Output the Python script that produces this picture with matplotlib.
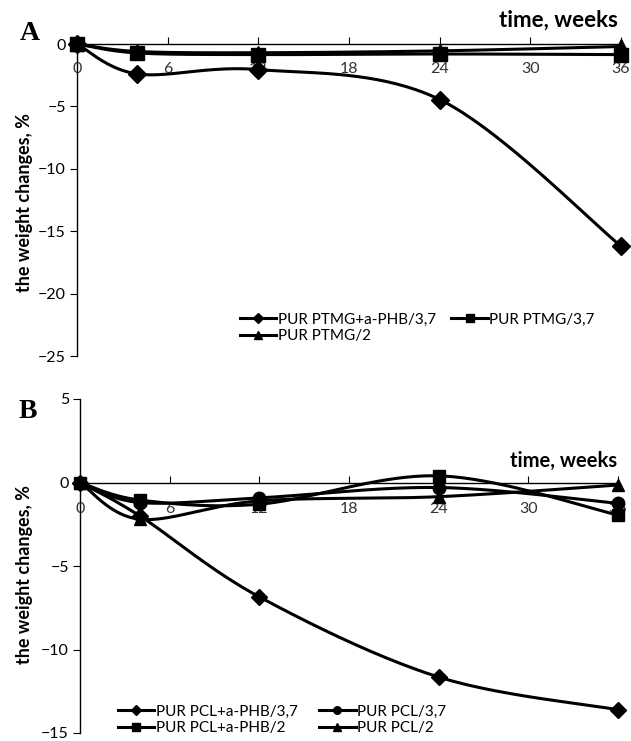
import numpy as np
import matplotlib
matplotlib.use("Agg")
import matplotlib.pyplot as plt

# ---------------- data ----------------
weeks = [0, 4, 12, 24, 36]
xticks = [0, 6, 12, 18, 24, 30, 36]

a_labels = ["PUR PTMG+a-PHB/3,7", "PUR PTMG/3,7", "PUR PTMG/2"]
a_markers = ["D", "s", "^"]
a_ptmg_phb37 = [0, -2.4, -2.05, -4.45, -16.2]
a_ptmg37 = [0, -0.72, -0.85, -0.8, -0.85]
a_ptmg2 = [0, -0.6, -0.7, -0.55, -0.2]

b_labels = ["PUR PCL+a-PHB/3,7", "PUR PCL/3,7", "PUR PCL+a-PHB/2", "PUR PCL/2"]
b_markers = ["D", "o", "s", "^"]
b_pcl_phb37 = [0, -2.0, -6.85, -11.65, -13.6]
b_pcl37 = [0, -1.2, -0.92, -0.3, -1.25]
b_pcl_phb2 = [0, -1.05, -1.3, 0.4, -1.95]
b_pcl2 = [0, -2.2, -1.1, -0.85, -0.15]

FONT = "Lato"
plt.rcParams["font.family"] = [FONT, "DejaVu Sans"]

fig = plt.figure(figsize=(6.31, 7.41), dpi=100)
axA = fig.add_axes([77/631, 1-356/741, (621-77)/631, (356-44)/741])
axB = fig.add_axes([80/631, 1-733/741, (618-80)/631, (733-399)/741])


def smooth(ax, x, y, n=40):
    pts = ax.transData.transform(np.column_stack([x, y]))
    P = np.vstack([pts[0], pts, pts[-1]])
    out = []
    for i in range(1, len(P) - 2):
        p0, p1, p2, p3 = P[i-1], P[i], P[i+1], P[i+2]
        c1 = p1 + (p2 - p0) / 6.0
        c2 = p2 - (p3 - p1) / 6.0
        t = np.linspace(0, 1, n)[:, None]
        seg = ((1-t)**3)*p1 + 3*((1-t)**2)*t*c1 + 3*(1-t)*(t**2)*c2 + (t**3)*p2
        out.append(seg if i == 1 else seg[1:])
    out = np.vstack(out)
    d = ax.transData.inverted().transform(out)
    return d[:, 0], d[:, 1]


def setup(ax, ylim, yticks, pad):
    ax.set_xlim(0, 36)
    ax.set_ylim(*ylim)
    ax.spines["right"].set_visible(False)
    ax.spines["top"].set_visible(False)
    ax.spines["bottom"].set_position(("data", 0))
    for s in ["left", "bottom"]:
        ax.spines[s].set_linewidth(1.0)
    ax.set_xticks(xticks)
    ax.set_yticks(yticks)
    ax.tick_params(axis="x", direction="in", length=5, pad=pad, labelsize=11.5, width=0.8, colors="black")
    ax.tick_params(axis="y", direction="out", length=5, pad=3, labelsize=11.5, width=0.8)
    ax.patch.set_alpha(0)


setup(axA, (-25, 0), [0, -5, -10, -15, -20, -25], 13)
setup(axB, (-15, 5), [5, 0, -5, -10, -15], 14)
for lbl in axA.get_xticklabels() + axB.get_xticklabels():
    lbl.set_color("#333333")


def draw(ax, series, labels, markers, msz):
    handles = []
    for y, lab, m in zip(series, labels, markers):
        sx, sy = smooth(ax, weeks, y)
        ax.plot(sx, sy, color="black", lw=2.2, clip_on=False, zorder=3)
        ms = msz if m != "D" else msz * 0.9
        ax.plot(weeks, y, ls="none", marker=m, ms=ms, color="black", clip_on=False, zorder=4)
        h, = ax.plot([], [], color="black", lw=2.2, marker=m, ms=ms * 0.6, label=lab)
        handles.append(h)
    return handles


hA = draw(axA, [a_ptmg_phb37, a_ptmg37, a_ptmg2], a_labels, a_markers, 10)
hB = draw(axB, [b_pcl_phb37, b_pcl37, b_pcl_phb2, b_pcl2], b_labels, b_markers, 9)

legA = axA.legend([hA[0], hA[2], hA[1]], [a_labels[0], a_labels[2], a_labels[1]],
                  ncol=2, frameon=False, fontsize=11, handlelength=2.4, handletextpad=0.1,
                  columnspacing=1.0, labelspacing=0.15, borderpad=0,
                  loc="upper left", bbox_to_anchor=((232-77)/544, (356-305)/312))
legB = axB.legend([hB[0], hB[2], hB[1], hB[3]], [b_labels[0], b_labels[2], b_labels[1], b_labels[3]],
                  ncol=2, frameon=False, fontsize=11, handlelength=2.4, handletextpad=0.1,
                  columnspacing=1.4, labelspacing=0.15, borderpad=0,
                  loc="upper left", bbox_to_anchor=((110-80)/538, (733-697)/334))

# axis labels and titles
fig.text(25/631, 1-202/741, "the weight changes, %", rotation=90, ha="center", va="center",
         fontsize=13, fontweight="bold")
fig.text(25/631, 1-575/741, "the weight changes, %", rotation=90, ha="center", va="center",
         fontsize=13, fontweight="bold")
fig.text(618/631, 1-20/741, "time, weeks", ha="right", va="center", fontsize=16, fontweight="bold")
fig.text(617/631, 1-461/741, "time, weeks", ha="right", va="center", fontsize=14.5, fontweight="bold")
fig.text(30/631, 1-33/741, "A", ha="center", va="center", fontsize=20, fontweight="bold",
         family="Liberation Serif")
fig.text(28/631, 1-411/741, "B", ha="center", va="center", fontsize=20, fontweight="bold",
         family="Liberation Serif")

fig.savefig("out.png", dpi=100)
